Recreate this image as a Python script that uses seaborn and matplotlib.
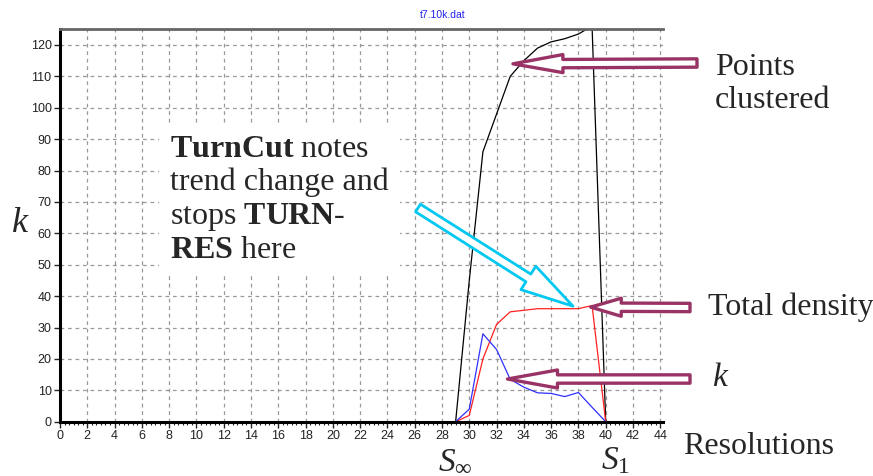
import numpy as np
import pandas as pd
import matplotlib
matplotlib.use('Agg')
import matplotlib.pyplot as plt
import seaborn as sns
from matplotlib.ticker import MultipleLocator

# Resolutions (x) and the three traced series
resolutions = [29, 30, 31, 32, 33, 34, 35, 36, 37, 38, 39, 40]
points_clustered = [0, 45, 86, 98, 110, 115, 119, 121, 122, 123.5, 126, 0]
total_density = [0, 2, 20, 31, 35, 35.5, 36, 36, 36, 36, 37, 0]
k_values = [0, 4, 28, 23, 13.5, 11, 9.2, 9, 8, 9.3, 4.6, 0]

x_ticks = list(range(0, 46, 2))
y_ticks = list(range(0, 121, 10))

df = pd.DataFrame({
    'res': resolutions * 3,
    'value': points_clustered + total_density + k_values,
    'series': ['points'] * 12 + ['density'] * 12 + ['k'] * 12,
})

sns.set_style('white')
plt.rcParams['font.family'] = ['Liberation Sans', 'DejaVu Sans']
plt.rcParams['mathtext.fontset'] = 'custom'
plt.rcParams['mathtext.rm'] = 'Liberation Serif'
plt.rcParams['mathtext.it'] = 'Liberation Serif:italic'
plt.rcParams['mathtext.bf'] = 'Liberation Serif:bold'

fig = plt.figure(figsize=(8.73, 4.76), dpi=100)
ax = fig.add_axes([60 / 873, 1 - 421.7 / 476, 603 / 873, 392.4 / 476])

palette = {'points': 'black', 'density': '#ff2020', 'k': '#3030ff'}
sns.lineplot(data=df, x='res', y='value', hue='series', palette=palette,
             linewidth=0.9, legend=False, ax=ax, sort=False)

ax.set_xlim(0, 44.2)
ax.set_ylim(0, 125)
ax.set_xticks(x_ticks)
ax.set_yticks(y_ticks)
ax.xaxis.set_minor_locator(MultipleLocator(2 / 6))
ax.tick_params(axis='both', which='major', length=4, width=1, labelsize=9,
               labelcolor='#222222', direction='out', pad=2)
ax.tick_params(axis='x', which='minor', length=2, width=0.8, direction='out', bottom=True)
ax.tick_params(axis='x', bottom=True)
ax.tick_params(axis='y', left=True)
ax.grid(True, which='major', linestyle=(0, (3, 3)), color='#999999', linewidth=0.9)
ax.set_xlabel('')
ax.set_ylabel('')

for side in ['left', 'bottom']:
    ax.spines[side].set_color('black')
    ax.spines[side].set_linewidth(2.2)
ax.spines['top'].set_color('#666666')
ax.spines['top'].set_linewidth(2)
ax.spines['right'].set_visible(False)

fig.text(443 / 873, 1 - 15 / 476, 't7.10k.dat', color='#2222ee', fontsize=7.5,
         ha='center', va='center')

# annotation text block
serif = 'Liberation Serif'
fig.text(170 / 873, 1 - 200 / 476,
         '$\\mathbf{TurnCut}$ notes\ntrend change and\nstops $\\mathbf{TURN}$-\n$\\mathbf{RES}$ here',
         fontsize=23, family=serif, ha='left', va='center', linespacing=1.15,
         bbox=dict(facecolor='white', edgecolor='none', pad=8))

fig.text(715 / 873, 1 - 68 / 476, 'Points', fontsize=23, family=serif, va='center')
fig.text(715 / 873, 1 - 101 / 476, 'clustered', fontsize=23, family=serif, va='center')
fig.text(708 / 873, 1 - 307 / 476, 'Total density', fontsize=23, family=serif, va='center')
fig.text(712 / 873, 1 - 378 / 476, 'k', fontsize=24, family=serif, style='italic', va='center')
fig.text(683 / 873, 1 - 447 / 476, 'Resolutions', fontsize=23, family=serif, va='center')
fig.text(12 / 873, 1 - 224 / 476, 'k', fontsize=26, family=serif, style='italic', va='center')
fig.text(438 / 873, 1 - 469 / 476, '$S_{\\infty}$', fontsize=24, va='baseline')
fig.text(601 / 873, 1 - 469 / 476, '$S_{\\mathit{1}}$', fontsize=24, va='baseline')

maroon = '#993366'


def hollow_arrow(tip, tail, color, head_length, head_width, tail_width, lw):
    ax.annotate('', xy=tip, xytext=tail, xycoords='data', textcoords='figure pixels',
                annotation_clip=False,
                arrowprops=dict(arrowstyle=f'simple,head_length={head_length},'
                                           f'head_width={head_width},tail_width={tail_width}',
                                mutation_scale=1, shrinkA=0, shrinkB=0,
                                facecolor='white', edgecolor=color, linewidth=lw))


hollow_arrow((33.2, 114), (697, 476 - 63), maroon, 36, 13, 6, 2.4)
hollow_arrow((38.9, 36.5), (690, 476 - 307.5), maroon, 22, 13, 6, 2.4)
hollow_arrow((32.8, 13.6), (690, 476 - 379), maroon, 36, 13, 6, 2.4)
hollow_arrow((37.6, 36.8), (418, 476 - 208), '#00c8f0', 38, 20, 6.5, 2.0)

fig.savefig('out.png', dpi=100)
